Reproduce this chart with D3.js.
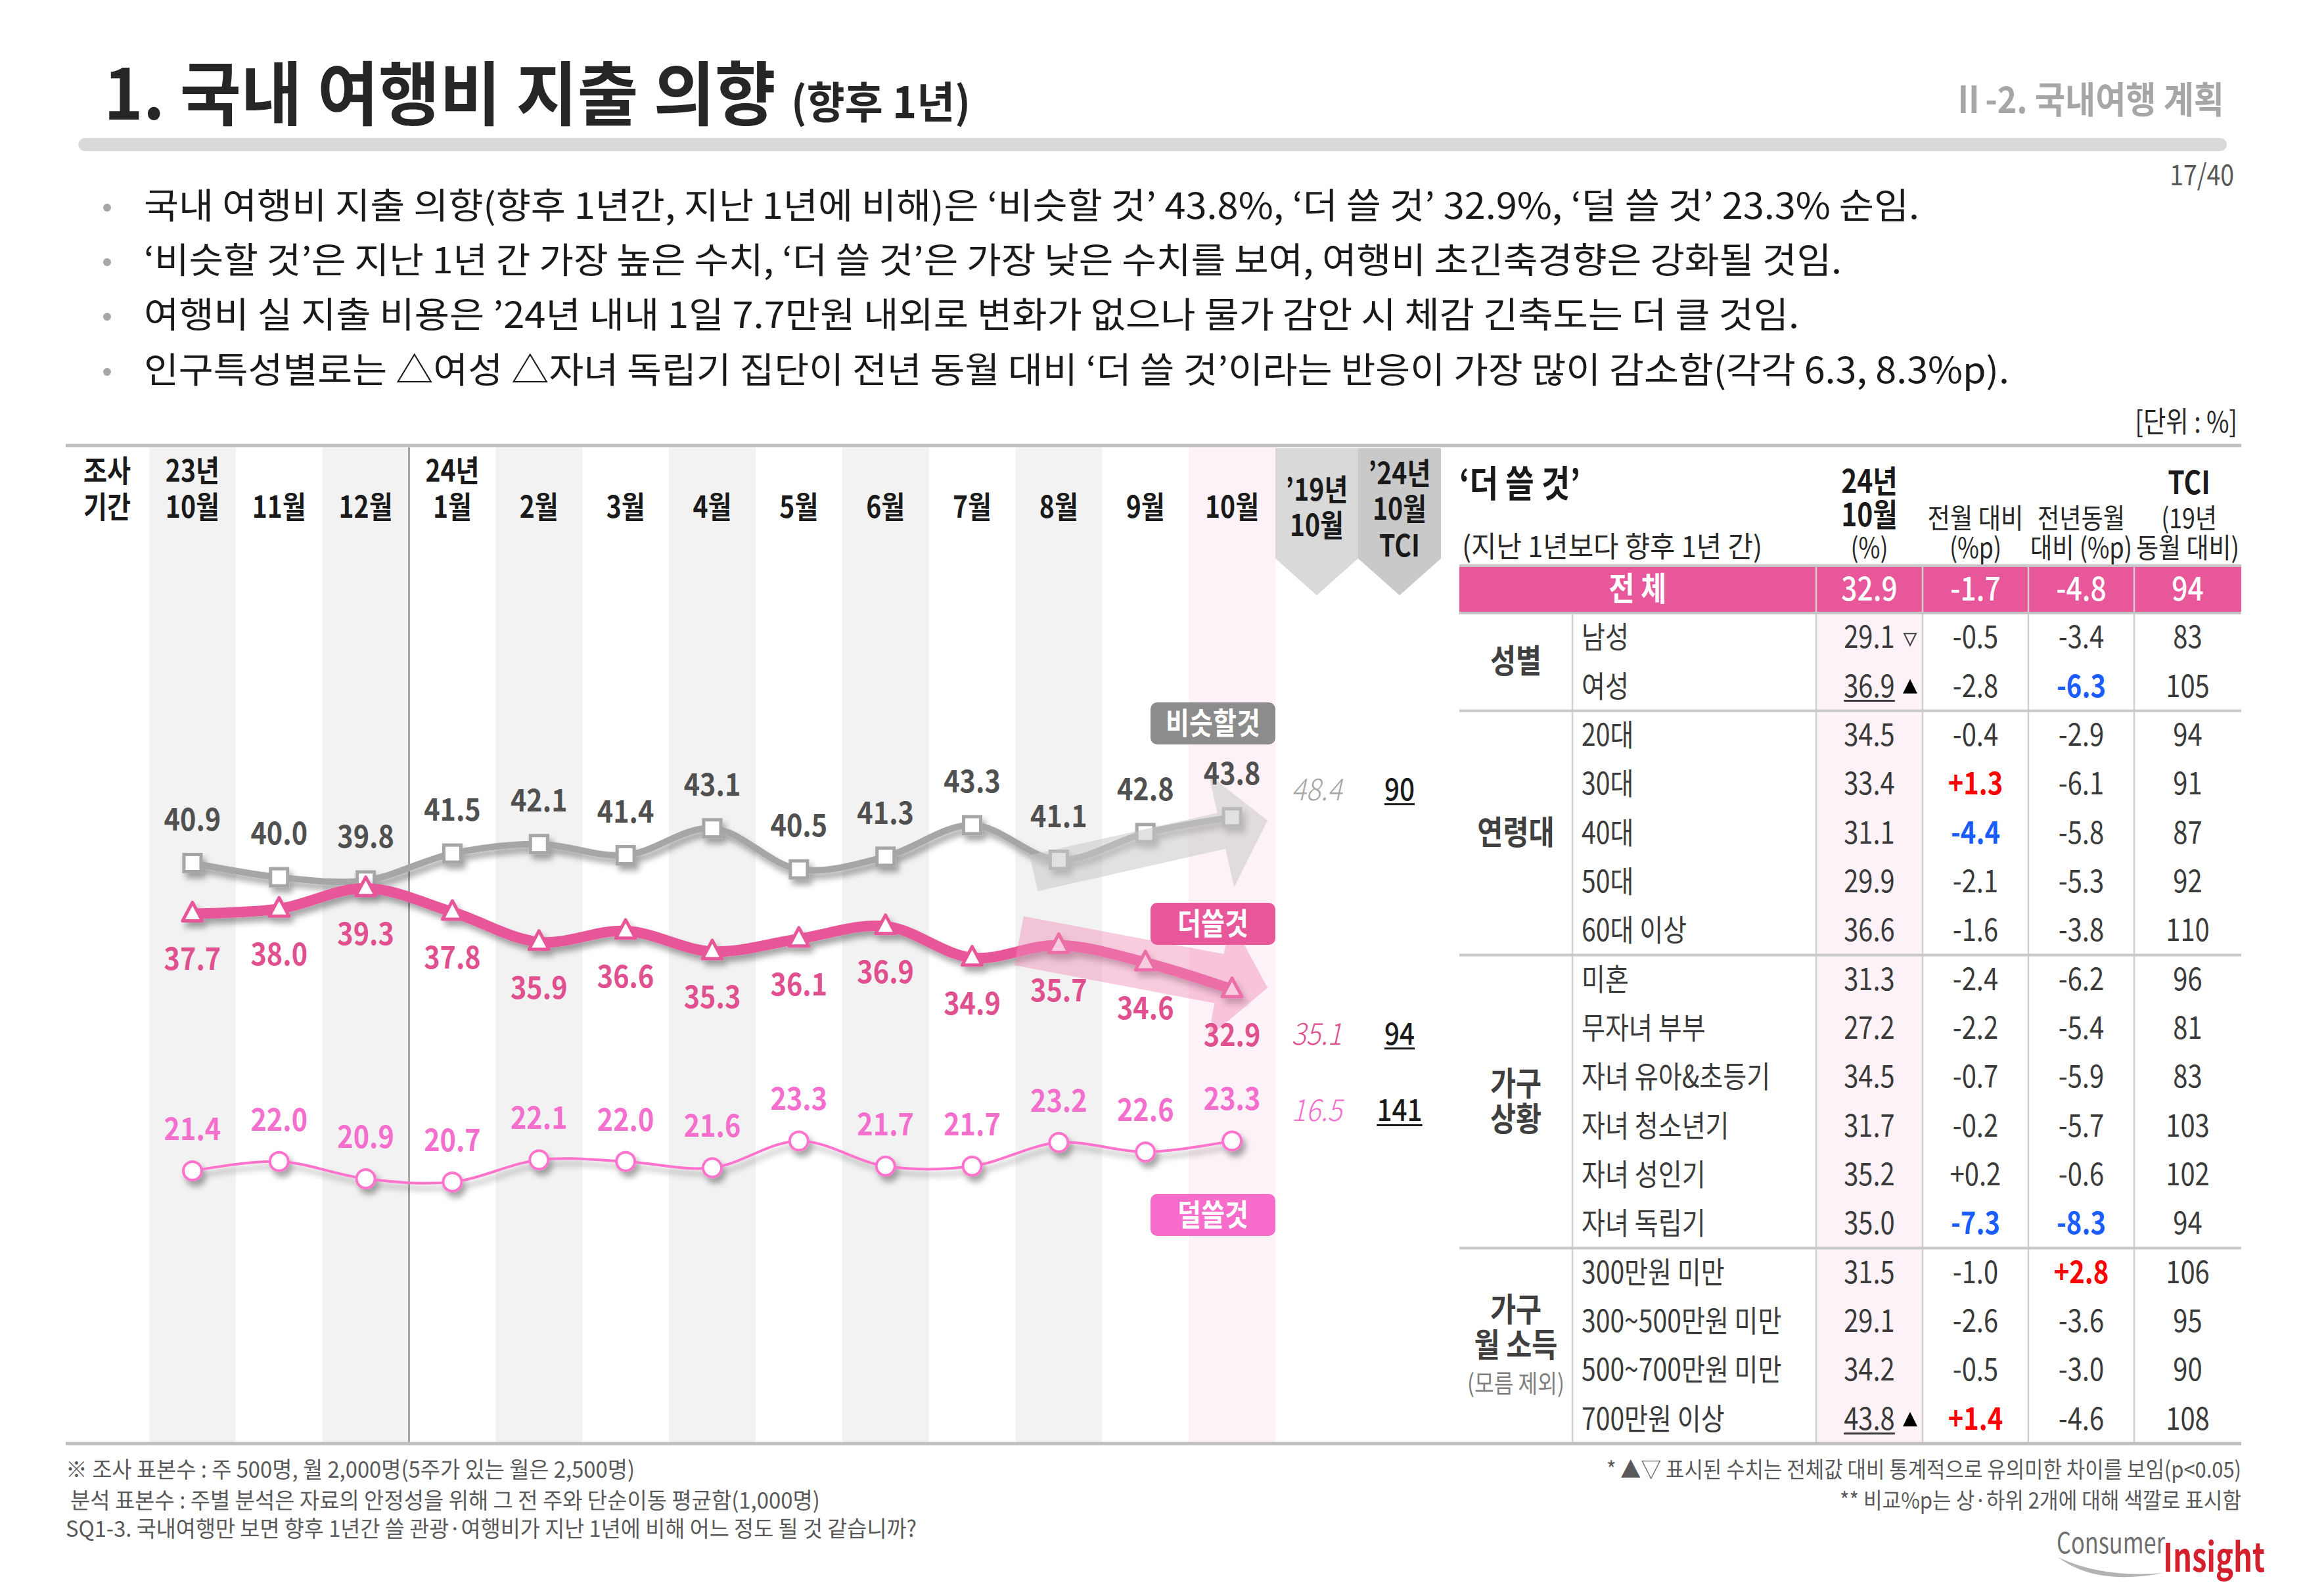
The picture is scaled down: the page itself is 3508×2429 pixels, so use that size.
<!DOCTYPE html>
<html><head><meta charset="utf-8">
<script src="https://cdn.jsdelivr.net/npm/d3@7"></script>
<style>
html,body{margin:0;padding:0;background:#fff;}
svg{display:block;}
text{font-family:"Noto Sans CJK KR","Noto Sans",sans-serif;}
</style></head><body>
<svg id="c" width="3508" height="2429"></svg>
<script>
// ---------------- data ----------------
const monthYear = ["23년","","","24년","","","","","","","","",""];
const monthName = ["10월","11월","12월","1월","2월","3월","4월","5월","6월","7월","8월","9월","10월"];
const similar   = [40.9,40.0,39.8,41.5,42.1,41.4,43.1,40.5,41.3,43.3,41.1,42.8,43.8];
const spendMore = [37.7,38.0,39.3,37.8,35.9,36.6,35.3,36.1,36.9,34.9,35.7,34.6,32.9];
const spendLess = [21.4,22.0,20.9,20.7,22.1,22.0,21.6,23.3,21.7,21.7,23.2,22.6,23.3];
const seriesNames = ["비슷할것","더쓸것","덜쓸것"];
const oct2019 = [48.4,35.1,16.5];
const tciOct24 = [90,94,141];

const tableGroups = [["성별"],["연령대"],["가구","상황"],["가구","월 소득","(모름 제외)"]];
const groupSizes = [2,5,6,4];
const rowLabels = ["남성","여성","20대","30대","40대","50대","60대 이상","미혼","무자녀 부부","자녀 유아&초등기","자녀 청소년기","자녀 성인기","자녀 독립기","300만원 미만","300~500만원 미만","500~700만원 미만","700만원 이상"];
const share24  = [29.1,36.9,34.5,33.4,31.1,29.9,36.6,31.3,27.2,34.5,31.7,35.2,35.0,31.5,29.1,34.2,43.8];
const diffMonth= [-0.5,-2.8,-0.4,1.3,-4.4,-2.1,-1.6,-2.4,-2.2,-0.7,-0.2,0.2,-7.3,-1.0,-2.6,-0.5,1.4];
const diffYear = [-3.4,-6.3,-2.9,-6.1,-5.8,-5.3,-3.8,-6.2,-5.4,-5.9,-5.7,-0.6,-8.3,2.8,-3.6,-3.0,-4.6];
const tciRows  = [83,105,94,91,87,92,110,96,81,83,103,102,94,106,95,90,108];
const sigMark  = ["down","up","","","","","","","","","","","","","","","up"];
const hiMonth  = ["","","","up","down","","","","","","","","down","","","","up"];
const hiYear   = ["","down","","","","","","","","","","","down","up","","",""];
const totalRow = [32.9,-1.7,-4.8,94];

const bullets = [
 "국내 여행비 지출 의향(향후 1년간, 지난 1년에 비해)은 ‘비슷할 것’ 43.8%, ‘더 쓸 것’ 32.9%, ‘덜 쓸 것’ 23.3% 순임.",
 "‘비슷할 것’은 지난 1년 간 가장 높은 수치, ‘더 쓸 것’은 가장 낮은 수치를 보여, 여행비 초긴축경향은 강화될 것임.",
 "여행비 실 지출 비용은 ’24년 내내 1일 7.7만원 내외로 변화가 없으나 물가 감안 시 체감 긴축도는 더 클 것임.",
 "인구특성별로는 △여성 △자녀 독립기 집단이 전년 동월 대비 ‘더 쓸 것’이라는 반응이 가장 많이 감소함(각각 6.3, 8.3%p)."
];
const bulletWidths = [2702,2584,2519,2839];
const notesLeft = [
 "※ 조사 표본수 : 주 500명, 월 2,000명(5주가 있는 월은 2,500명)",
 " 분석 표본수 : 주별 분석은 자료의 안정성을 위해 그 전 주와 단순이동 평균함(1,000명)",
 "SQ1-3. 국내여행만 보면 향후 1년간 쓸 관광·여행비가 지난 1년에 비해 어느 정도 될 것 같습니까?"
];
const notesRight = [
 "* ▲▽ 표시된 수치는 전체값 대비 통계적으로 유의미한 차이를 보임(p<0.05)",
 "** 비교%p는 상·하위 2개에 대해 색깔로 표시함"
];

// ---------------- helpers ----------------
const svg = d3.select("#c");
function condense(node,o){
  if(o.width){ node.setAttribute("textLength",o.width); node.setAttribute("lengthAdjust","spacingAndGlyphs"); }
  else if(o.cond){
    const l = node.getComputedTextLength();
    if(l>0){ node.setAttribute("textLength",l*o.cond); node.setAttribute("lengthAdjust","spacingAndGlyphs"); }
  }
}
function txt(g, x, y, s, o={}){
  const t = g.append("text").attr("x",x).attr("y",y).text(s)
    .attr("font-size",o.size||40).attr("font-weight",o.weight||400)
    .attr("fill",o.fill||"#262626").attr("text-anchor",o.anchor||"start");
  if(o.style) t.attr("font-style",o.style);
  condense(t.node(),o);
  return t;
}
// stacked multi-line text as one text element
function stack(g, x, anchor, lines){
  const t = g.append("text").attr("text-anchor",anchor);
  lines.forEach(l=>{
    const ts = t.append("tspan").attr("x",l.x!=null?l.x:x).attr("y",l.y).text(l.s)
      .attr("font-size",l.size||40).attr("font-weight",l.weight||400).attr("fill",l.fill||"#1a1a1a");
    condense(ts.node(),l);
  });
  return t;
}
const fmt1 = d => d.toFixed(1);
const fmtD = d => (d>0?"+":"")+d.toFixed(1);

const defs = svg.append("defs");
const flt = defs.append("filter").attr("id","sh").attr("x","-5%").attr("y","-60%").attr("width","115%").attr("height","240%");
flt.append("feDropShadow").attr("dx",5).attr("dy",8).attr("stdDeviation",5).attr("flood-color","#000").attr("flood-opacity",0.35);

// ---------------- header ----------------
txt(svg,158,182,"1. 국내 여행비 지출 의향",{size:106,weight:700,fill:"#262626",width:1023});
txt(svg,1204,180,"(향후 1년)",{size:66,weight:700,fill:"#262626",width:273});
txt(svg,3385,172,"Ⅱ-2. 국내여행 계획",{size:56,weight:700,fill:"#a6a6a6",anchor:"end",width:414});
svg.append("rect").attr("x",119).attr("y",210).attr("width",3270).attr("height",20).attr("rx",10).attr("fill","#d9d9d9");
txt(svg,3400,282,"17/40",{size:44,fill:"#595959",anchor:"end",cond:0.85});

const bl = [333,416,499,583];
bullets.forEach((b,i)=>{
  svg.append("circle").attr("cx",163).attr("cy",bl[i]-17).attr("r",6).attr("fill","#a6a6a6");
  txt(svg,219,bl[i],b,{size:54,fill:"#1a1a1a",width:bulletWidths[i]});
});
txt(svg,3405,658,"[단위 : %]",{size:44,fill:"#262626",anchor:"end",cond:0.85});

// ---------------- chart ----------------
const chartTop = 681, chartBot = 2195;
const x = d3.scaleBand().domain(d3.range(monthName.length)).range([227,1941]).padding(0);
const bw = x.bandwidth();
const cx = i => x.range()[0] + bw/2 + i*bw;   // works for fractional index
const y = d3.scaleLinear().domain([20,45]).range([1815.7,1215.0]);
const cg = svg.append("g");

monthName.forEach((m,i)=>{
  let fill = null;
  if(i===monthName.length-1) fill = "#fdf2f8";
  else if(i%2===0) fill = "#f2f2f2";
  if(fill) cg.append("rect").attr("x",x(i)).attr("y",chartTop).attr("width",bw).attr("height",chartBot-chartTop).attr("fill",fill);
});
cg.append("line").attr("x1",x(3)).attr("x2",x(3)).attr("y1",chartTop).attr("y2",chartBot).attr("stroke","#a6a6a6").attr("stroke-width",3);

// extra columns ('19 and TCI)
const xe0 = x.range()[1], ew = 126;
[["#d9d9d9",0],["#c9c9c9",1]].forEach(([c,k])=>{
  const a = xe0 + k*ew, b = a+ew;
  cg.append("path").attr("d",`M${a},682 L${b},682 L${b},850 L${(a+b)/2},906 L${a},850 Z`).attr("fill",c);
});
const H = {size:46,weight:700,fill:"#1a1a1a",cond:0.85};
stack(cg,xe0+ew/2,"middle",[{...H,y:762,s:"’19년"},{...H,y:816,s:"10월"}]);
stack(cg,xe0+ew*1.5,"middle",[{...H,y:737,s:"’24년"},{...H,y:791,s:"10월"},{...H,y:847,s:"TCI"}]);

// column headers
stack(cg,163,"middle",[{...H,y:733,s:"조사"},{...H,y:788,s:"기간"}]);
monthName.forEach((m,i)=>{
  const ls = [];
  if(monthYear[i]) ls.push({...H,y:733,s:monthYear[i]});
  ls.push({...H,y:788,s:m});
  stack(cg,cx(i),"middle",ls);
});

// series
const series = [
  {vals:similar,  color:"#a6a6a6", width:10, marker:"square",   label:"#505050", off:-50},
  {vals:spendMore,color:"#e8579a", width:16, marker:"triangle", label:"#e0508f", off:86},
  {vals:spendLess,color:"#ff73cc", width:4,  marker:"circle",   label:"#f46fcd", off:-47}
];
const line = d3.line().x((d,i)=>cx(i)).y(d=>y(d)).curve(d3.curveCatmullRom.alpha(0.5));
series.forEach(s=>{
  const g = cg.append("g").attr("filter","url(#sh)");
  g.append("path").attr("d",line(s.vals)).attr("fill","none").attr("stroke",s.color).attr("stroke-width",s.width).attr("stroke-linecap","round");
  s.vals.forEach((v,i)=>{
    const px=cx(i), py=y(v);
    if(s.marker==="square") g.append("rect").attr("x",px-13).attr("y",py-13).attr("width",26).attr("height",26).attr("fill","#fff").attr("stroke",s.color).attr("stroke-width",5);
    else if(s.marker==="triangle") g.append("path").attr("d",`M${px},${py-17} L${px+15},${py+11} L${px-15},${py+11} Z`).attr("fill","#fff").attr("stroke",s.color).attr("stroke-width",5).attr("stroke-linejoin","round");
    else g.append("circle").attr("cx",px).attr("cy",py).attr("r",14).attr("fill","#fff").attr("stroke",s.color).attr("stroke-width",4);
  });
});

// trend arrows (on top, translucent)
function arrowPts(x0,y0,x1,y1,bwid,hw,hl){
  const dx=x1-x0, dy=y1-y0, L=Math.hypot(dx,dy), ux=dx/L, uy=dy/L, nx=-uy, ny=ux;
  const bx=x1-ux*hl, by=y1-uy*hl;
  return [[x0+nx*bwid,y0+ny*bwid],[bx+nx*bwid,by+ny*bwid],[bx+nx*hw,by+ny*hw],[x1,y1],[bx-nx*hw,by-ny*hw],[bx-nx*bwid,by-ny*bwid],[x0-nx*bwid,y0-ny*bwid]];
}
const arrows = [
  {from:[9.71,40.26], to:[12.41,43.6], bw:28, hw:88, hl:72, fill:"rgba(200,200,200,0.55)"},
  {from:[9.54,35.98], to:[12.41,33.0], bw:38, hw:92, hl:75, fill:"rgba(240,140,185,0.45)"}
];
arrows.forEach(a=>{
  const p = arrowPts(cx(a.from[0]),y(a.from[1]),cx(a.to[0]),y(a.to[1]),a.bw,a.hw,a.hl);
  cg.append("path").attr("d","M"+p.map(q=>q.join(",")).join("L")+"Z").attr("fill",a.fill);
});

// data labels
series.forEach(s=>{
  s.vals.forEach((v,i)=>{
    txt(cg,cx(i),y(v)+s.off,fmt1(v),{size:47,weight:700,fill:s.label,anchor:"middle",cond:0.88});
  });
});

// '19 values & TCI
const extraOff = [-26,84,-30];
series.forEach((s,k)=>{
  const last = s.vals[s.vals.length-1];
  const yy = y(last)+extraOff[k];
  txt(cg,xe0+ew/2,yy,fmt1(oct2019[k]),{size:46,weight:300,style:"italic",fill:k===0?"#a6a6a6":s.label,anchor:"middle",cond:0.9});
  const t = txt(cg,xe0+ew*1.5,yy,String(tciOct24[k]),{size:46,weight:500,fill:"#1a1a1a",anchor:"middle",cond:0.88});
  const bb = t.node().getBBox();
  cg.append("line").attr("x1",bb.x).attr("x2",bb.x+bb.width).attr("y1",yy+6).attr("y2",yy+6).attr("stroke","#1a1a1a").attr("stroke-width",3);
});

// legend boxes
const legendBoxes = [[1069,"#8c8c8c"],[1374,"#e8579a"],[1817,"#f76ccb"]];
legendBoxes.forEach(([yy,c],k)=>{
  cg.append("rect").attr("x",x.range()[1]-190).attr("y",yy).attr("width",190).attr("height",64).attr("rx",10).attr("fill",c);
  txt(cg,x.range()[1]-95,yy+48,seriesNames[k],{size:46,weight:700,fill:"#fff",anchor:"middle",cond:0.85});
});

// ---------------- table ----------------
const tg = svg.append("g");
const tx0 = 2221, txg = 2393;
const colX = [2764,2926,3087,3248,3411];
const colC = i => (colX[i]+colX[i+1])/2;
const totTop = 861, rowTop = 933, rowH = (2197-933)/rowLabels.length;

tg.append("rect").attr("x",colX[0]).attr("y",rowTop).attr("width",colX[1]-colX[0]).attr("height",rowH*rowLabels.length).attr("fill","#fdf2f8");
tg.append("rect").attr("x",tx0).attr("y",totTop).attr("width",colX[4]-tx0).attr("height",rowTop-totTop).attr("fill","#e8579a");

// grid
tg.append("line").attr("x1",txg).attr("x2",txg).attr("y1",rowTop).attr("y2",2197).attr("stroke","#cfcfcf").attr("stroke-width",2.5);
colX.slice(0,4).forEach(c=>{
  tg.append("line").attr("x1",c).attr("x2",c).attr("y1",totTop).attr("y2",2197).attr("stroke","#d0d0d0").attr("stroke-width",2.5);
});
[totTop,rowTop].forEach(yy=>tg.append("line").attr("x1",tx0).attr("x2",colX[4]).attr("y1",yy).attr("y2",yy).attr("stroke","#c4c4c4").attr("stroke-width",4));
let cum = 0;
groupSizes.forEach((n,gi)=>{
  const start = cum; cum += n;
  if(gi<groupSizes.length-1){
    const yy = rowTop+cum*rowH;
    tg.append("line").attr("x1",tx0).attr("x2",colX[4]).attr("y1",yy).attr("y2",yy).attr("stroke","#c8c8c8").attr("stroke-width",4);
  }
  const mid = rowTop+(start+n/2)*rowH;
  const lines = tableGroups[gi];
  const gap = 54;
  stack(tg,(tx0+txg)/2,"middle",lines.map((l,k)=>{
    const small = l.startsWith("(");
    return {y:mid + (k-(lines.length-1)/2)*gap + 17, s:l, size:small?38:50, weight:small?400:700, fill:small?"#7f7f7f":"#404040", cond:0.85};
  }));
});

// outer top/bottom lines
svg.append("line").attr("x1",100).attr("x2",3411).attr("y1",678).attr("y2",678).attr("stroke","#bfbfbf").attr("stroke-width",5);
svg.append("line").attr("x1",100).attr("x2",3411).attr("y1",2197).attr("y2",2197).attr("stroke","#bfbfbf").attr("stroke-width",5);

// table header
const TB = {size:48,weight:700,fill:"#1a1a1a",cond:0.85};
const TR = {size:42,weight:400,fill:"#262626",cond:0.85};
stack(tg,tx0,"start",[{...TB,size:56,y:756,s:"‘더 쓸 것’"},{...TR,size:44,x:tx0+4,y:848,s:"(지난 1년보다 향후 1년 간)",cond:null,width:457}]);
stack(tg,colC(0),"middle",[{...TB,y:750,s:"24년"},{...TB,y:801,s:"10월"},{...TR,y:849,s:"(%)"}]);
stack(tg,colC(1),"middle",[{...TR,y:804,s:"전월 대비",cond:null,width:146},{...TR,y:849,s:"(%p)"}]);
stack(tg,colC(2),"middle",[{...TR,y:804,s:"전년동월",cond:null,width:133},{...TR,y:849,s:"대비 (%p)",cond:null,width:155}]);
stack(tg,colC(3)+2,"middle",[{...TB,y:752,s:"TCI"},{...TR,y:804,s:"(19년"},{...TR,x:colC(3),y:849,s:"동월 대비)",cond:null,width:157}]);

// total row
txt(tg,(tx0+colX[0])/2,914,"전 체",{size:50,weight:700,fill:"#fff",anchor:"middle",cond:0.85});
totalRow.forEach((v,i)=>{
  const s = i===0?fmt1(v):(i===3?String(v):fmtD(v));
  txt(tg,colC(i),914,s,{size:50,weight:500,fill:"#fff",anchor:"middle",cond:0.85});
});

// rows
const red="#ff0000", blue="#1a5cff", base="#3a3a3a";
rowLabels.forEach((lab,r)=>{
  const yb = rowTop + r*rowH + rowH/2 + 16;
  txt(tg,2407,yb,lab,{size:46,fill:base,cond:0.85});
  const t = txt(tg,colC(0),yb,fmt1(share24[r]),{size:47,fill:base,anchor:"middle",cond:0.85});
  if(sigMark[r]){
    const tx = colC(0)+62, ty = yb-14;
    if(sigMark[r]==="up"){
      tg.append("path").attr("d",`M${tx},${ty-13} L${tx+11},${ty+9} L${tx-11},${ty+9} Z`).attr("fill","#000");
      const bb = t.node().getBBox();
      tg.append("line").attr("x1",bb.x).attr("x2",bb.x+bb.width).attr("y1",yb+6).attr("y2",yb+6).attr("stroke",base).attr("stroke-width",3);
    } else {
      tg.append("path").attr("d",`M${tx-9},${ty-8} L${tx+9},${ty-8} L${tx},${ty+10} Z`).attr("fill","none").attr("stroke","#404040").attr("stroke-width",2);
    }
  }
  const cm = hiMonth[r]==="up"?red:hiMonth[r]==="down"?blue:base;
  txt(tg,colC(1),yb,fmtD(diffMonth[r]),{size:47,weight:hiMonth[r]?700:400,fill:cm,anchor:"middle",cond:0.85});
  const cy2 = hiYear[r]==="up"?red:hiYear[r]==="down"?blue:base;
  txt(tg,colC(2),yb,fmtD(diffYear[r]),{size:47,weight:hiYear[r]?700:400,fill:cy2,anchor:"middle",cond:0.85});
  txt(tg,colC(3),yb,String(tciRows[r]),{size:47,fill:base,anchor:"middle",cond:0.85});
});

// ---------------- footer ----------------
const nlX=[100,107,100], nlW=[866,1141,1295], nlY=[2249,2296,2339];
notesLeft.forEach((n,i)=>txt(svg,nlX[i],nlY[i],n,{size:34,fill:"#595959",width:nlW[i]}));
const nrW=[966,611];
notesRight.forEach((n,i)=>txt(svg,3411,nlY[i],n,{size:34,fill:"#595959",anchor:"end",width:nrW[i]}));

// logo
svg.append("path").attr("d","M3132,2370 Q3190,2414 3292,2394 Q3200,2402 3132,2370 Z").attr("fill","#b3b3b3");
txt(svg,3130,2364,"Consumer",{size:44,fill:"#6f6f6f",width:165});
txt(svg,3292,2392,"Insight",{size:60,weight:700,fill:"#d41f2d",width:155});
</script>
</body></html>
